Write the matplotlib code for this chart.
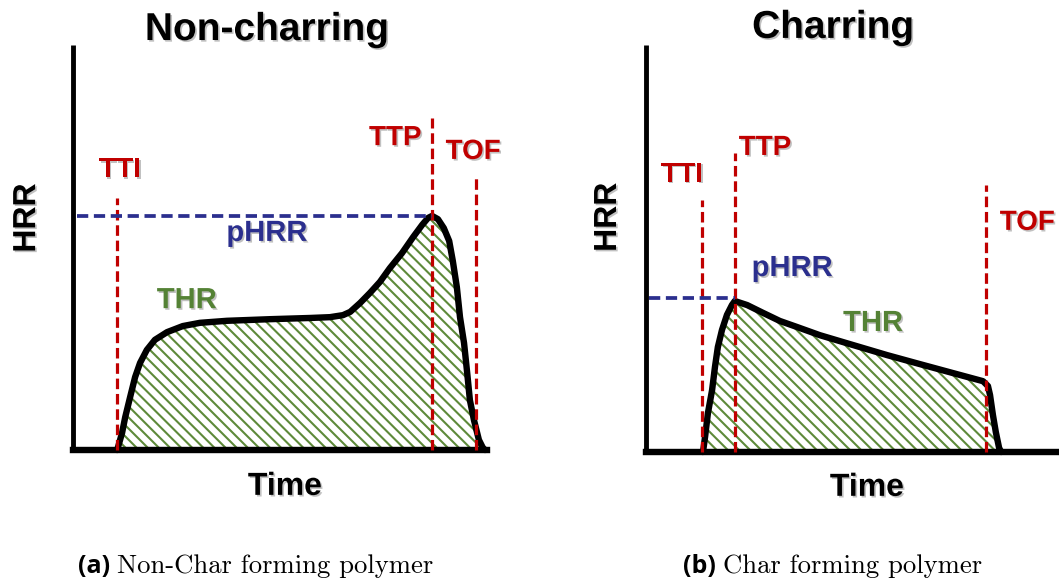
import matplotlib
matplotlib.use('Agg')
import numpy as np
from matplotlib import pyplot as plt
from matplotlib import patheffects as pe

# Non-charring curve (time, HRR in arbitrary units 0-100)
t_nc = [9.8, 10.0, 10.9, 11.6, 12.7, 13.8, 14.9, 16.4, 18.2, 20.9, 24.4, 28.2,
        34.2, 43.8, 52.7, 57.1, 60.0, 61.6, 63.8, 66.0, 68.2, 70.4, 73.1, 75.6,
        77.6, 78.9, 79.8, 81.1, 82.4, 83.6, 84.4, 85.3, 86.0, 86.9, 87.6, 88.2,
        89.1, 90.2, 91.1, 91.6]
hrr_nc = [0.0, 0.7, 4.2, 8.1, 13.1, 18.0, 21.5, 24.7, 27.2, 29.1, 30.6, 31.4,
          31.9, 32.3, 32.6, 32.8, 33.3, 34.1, 36.3, 38.8, 41.5, 44.9, 48.6, 52.6,
          55.6, 57.3, 57.8, 57.0, 54.8, 51.6, 46.7, 40.2, 32.8, 26.4, 19.0, 12.3,
          7.4, 2.5, 0.5, 0.0]
# markers: TTI, TTP, TOF times and the top of each dashed line
marks_nc = [9.8, 79.8, 89.6]
marks_top_nc = [62.2, 82.0, 68.1]
phrr_nc = 57.8

# Charring curve
t_ch = [13.8, 14.3, 15.0, 16.0, 16.7, 17.4, 18.4, 19.6, 20.8, 21.5, 24.5, 28.3,
        32.4, 36.6, 42.1, 49.4, 58.4, 66.3, 74.3, 81.6, 82.8, 83.3, 84.0, 84.7,
        85.5, 86.0]
hrr_ch = [0.0, 3.7, 9.6, 15.2, 20.9, 25.8, 30.0, 33.7, 36.1, 37.1, 36.1, 34.2,
          32.2, 30.7, 28.7, 26.5, 23.8, 21.6, 19.4, 17.4, 16.2, 14.0, 9.1, 4.9,
          1.0, 0.0]
marks_ch = [13.6, 21.5, 82.3]
marks_top_ch = [61.9, 73.5, 65.6]
phrr_ch = 37.8

RED = '#C00000'
BLUE = '#2B2F8E'
GREEN = '#548235'
HATCH = '#5E8A3A'

plt.rcParams['hatch.linewidth'] = 1.5
plt.rcParams['font.family'] = ['Liberation Sans', 'DejaVu Sans']

shadow = [pe.withSimplePatchShadow(offset=(1.2, -1.2), shadow_rgbFace='#777777', alpha=0.45)]

fig = plt.figure(figsize=(10.59, 5.81), dpi=100)
W, H = 1059.0, 581.0


def make_axes(x0, y0, w, h):
    # pixel box (origin top-left) -> figure fraction
    ax = fig.add_axes([x0 / W, 1 - y0 / H, w / W, h / H])
    ax.set_xlim(0, 100)
    ax.set_ylim(0, 100)
    ax.set_xticks([])
    ax.set_yticks([])
    ax.patch.set_visible(False)
    for s in ['top', 'right']:
        ax.spines[s].set_visible(False)
    ax.spines['left'].set_linewidth(3.5)
    ax.spines['bottom'].set_linewidth(4.6)
    ax.spines['left'].set_capstyle('butt')
    return ax


def label(ax, x, y, s, color, size, **kw):
    ax.text(x, y, s, color=color, fontsize=size, fontweight='bold', ha='center',
            va='center', clip_on=False, path_effects=shadow, **kw)


def panel(ax, t, hrr, marks, tops, phrr):
    ax.fill_between(t, hrr, 0, facecolor='none', edgecolor=HATCH, linewidth=0,
                    hatch='\\\\\\', zorder=1)
    ax.plot(t, hrr, color='black', lw=4.6, solid_capstyle='round',
            solid_joinstyle='round', zorder=3, clip_on=False)
    ax.vlines(marks, 0, tops, colors=RED, lw=2.3, linestyles=(0, (3.3, 1.5)),
              zorder=4, clip_on=False)
    ax.hlines(phrr, 0.8, marks[1], colors=BLUE, lw=2.7, linestyles=(0, (3.0, 1.5)),
              zorder=4, clip_on=False)


# (a) non-charring
ax1 = make_axes(73, 450, 450, 405)
ax1.spines['bottom'].set_bounds(0, 92)
panel(ax1, t_nc, hrr_nc, marks_nc, marks_top_nc, phrr_nc)
label(ax1, 43.1, 103.7, 'Non-charring', 'black', 28)
label(ax1, -10.2, 57.3, 'HRR', 'black', 23, rotation=90)
label(ax1, 10.4, 69.1, 'TTI', RED, 20)
label(ax1, 71.6, 77.0, 'TTP', RED, 20)
label(ax1, 88.9, 73.6, 'TOF', RED, 20)
label(ax1, 43.1, 53.6, 'pHRR', BLUE, 21)
label(ax1, 25.3, 37.0, 'THR', GREEN, 21)
label(ax1, 47.1, -9.1, 'Time', 'black', 23)

# (b) charring
ax2 = make_axes(646, 452, 413, 407)
panel(ax2, t_ch, hrr_ch, marks_ch, marks_top_ch, phrr_ch)
label(ax2, 45.3, 104.2, 'Charring', 'black', 28)
label(ax2, -9.2, 57.7, 'HRR', 'black', 23, rotation=90)
label(ax2, 8.7, 68.1, 'TTI', RED, 20)
label(ax2, 28.8, 74.7, 'TTP', RED, 20)
label(ax2, 92.3, 56.3, 'TOF', RED, 20)
label(ax2, 35.4, 45.2, 'pHRR', BLUE, 21)
label(ax2, 55.0, 31.7, 'THR', GREEN, 21)
label(ax2, 53.5, -8.8, 'Time', 'black', 23)

# captions
captions = [(78, '(a)', 'Non-Char forming polymer'), (683, '(b)', 'Char forming polymer')]
renderer = fig.canvas.get_renderer()
for x, tag, txt in captions:
    t1 = fig.text(x / W, 1 - 573 / H, tag, fontfamily='Open Sans', fontweight='bold',
                  fontsize=18, va='baseline', ha='left')
    bb = t1.get_window_extent(renderer)
    fig.text((bb.x1 + 7) / W, 1 - 573 / H, txt, fontfamily='cmr10', fontsize=19.2,
             va='baseline', ha='left')

fig.savefig('out.png', dpi=100)
